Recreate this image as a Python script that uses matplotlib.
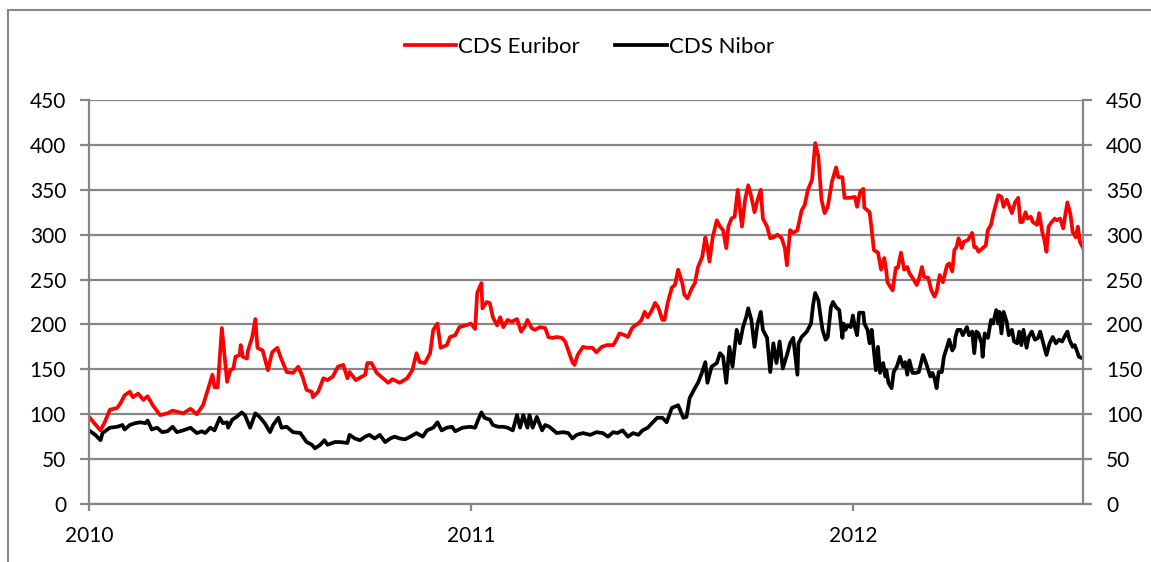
import pandas as pd
import matplotlib.pyplot as plt
import matplotlib.dates as mdates
from matplotlib.patches import Rectangle

# days since 2010-01-01 and CDS levels (bp)
euribor_days = [0, 11, 15, 20, 27, 30, 34, 39, 42, 47, 52, 56, 61, 68, 75, 80, 90, 97, 103, 109,
                113, 118, 120, 123, 127, 132, 135, 138, 140, 144, 145, 147, 151, 152, 156, 159, 161, 166, 171, 175,
                180, 183, 189, 195, 200, 204, 208, 213, 214, 219, 224, 228, 233, 238, 243, 247, 249, 255, 264, 266,
                270, 275, 281, 286, 290, 297, 304, 309, 313, 316, 321, 326, 329, 333, 336, 342, 345, 350, 354, 360,
                365, 369, 371, 375, 376, 380, 383, 386, 390, 393, 396, 400, 404, 409, 413, 417, 419, 423, 426, 431,
                436, 439, 443, 447, 452, 455, 458, 462, 464, 467, 472, 476, 481, 485, 490, 495, 501, 504, 507, 512,
                515, 519, 522, 525, 528, 531, 534, 538, 541, 544, 548, 550, 553, 557, 560, 563, 567, 569, 572, 576,
                579, 582, 586, 589, 591, 593, 596, 600, 603, 606, 609, 611, 614, 617, 620, 624, 627, 630, 633, 636,
                639, 642, 644, 648, 651, 654, 658, 662, 665, 667, 670, 673, 677, 681, 684, 687, 691, 694, 697, 700,
                703, 706, 710, 714, 716, 720, 722, 727, 732, 734, 737, 740, 741, 746, 748, 750, 754, 757, 760, 762,
                763, 768, 771, 773, 776, 779, 782, 784, 787, 791, 793, 796, 798, 802, 805, 808, 810, 813, 816, 820,
                822, 825, 827, 829, 831, 834, 836, 840, 844, 846, 848, 850, 854, 857, 859, 862, 864, 867, 869, 872,
                874, 877, 879, 882, 885, 888, 890, 892, 895, 897, 900, 902, 906, 908, 911, 913, 915, 917, 920, 923,
                925, 928, 931, 933, 935, 938, 940, 943, 945, 947, 950]
euribor = [97, 82, 91, 105, 107, 112, 121, 125, 119, 123, 116, 120, 110, 99, 101, 104, 101, 106, 100, 110,
           125, 144, 130, 130, 196, 136, 149, 151, 164, 166, 177, 164, 162, 171, 186, 206, 174, 171, 149, 169,
           174, 164, 147, 146, 153, 142, 127, 125, 119, 125, 140, 138, 142, 153, 155, 140, 147, 138, 144, 157,
           157, 146, 140, 135, 139, 135, 140, 149, 168, 158, 157, 168, 194, 201, 174, 177, 186, 188, 197, 199,
           201, 195, 235, 246, 218, 225, 224, 208, 199, 208, 197, 205, 203, 206, 192, 199, 205, 196, 194, 197,
           196, 186, 185, 186, 185, 181, 171, 158, 155, 166, 175, 174, 174, 169, 175, 177, 177, 183, 190, 188,
           186, 196, 199, 201, 205, 214, 208, 216, 224, 219, 205, 205, 224, 241, 244, 261, 246, 233, 229, 240,
           246, 264, 275, 297, 286, 270, 297, 316, 309, 305, 285, 309, 318, 320, 350, 309, 339, 355, 342, 325,
           339, 350, 318, 309, 296, 297, 300, 296, 285, 266, 305, 302, 305, 327, 333, 350, 361, 402, 387, 339,
           324, 331, 359, 375, 364, 364, 341, 341, 342, 331, 348, 351, 330, 325, 305, 283, 280, 261, 274, 259,
           247, 238, 263, 263, 280, 261, 264, 257, 252, 244, 250, 264, 253, 252, 238, 231, 236, 255, 247, 266,
           268, 259, 283, 286, 296, 285, 292, 294, 302, 286, 286, 281, 285, 288, 305, 311, 322, 335, 344, 342,
           331, 339, 333, 324, 336, 341, 314, 314, 325, 318, 320, 314, 311, 324, 303, 294, 281, 309, 314, 318,
           316, 318, 307, 322, 336, 322, 303, 297, 309, 292, 285]

nibor_days = [0, 6, 11, 13, 20, 27, 32, 34, 39, 44, 49, 54, 56, 60, 65, 70, 75, 80, 84, 90,
              97, 103, 108, 111, 116, 120, 125, 128, 132, 133, 137, 141, 146, 149, 154, 159, 163, 168, 173, 176,
              181, 184, 189, 195, 202, 208, 213, 216, 221, 225, 228, 235, 240, 247, 249, 254, 259, 264, 268, 273,
              278, 283, 288, 292, 297, 302, 307, 313, 319, 323, 329, 333, 337, 342, 347, 350, 357, 364, 369, 372,
              375, 378, 383, 386, 391, 396, 400, 405, 409, 412, 415, 419, 421, 424, 428, 433, 436, 440, 447, 453,
              458, 462, 466, 472, 479, 485, 491, 496, 501, 505, 510, 515, 520, 525, 529, 534, 538, 543, 548, 552,
              557, 563, 568, 571, 574, 579, 582, 586, 589, 591, 595, 600, 603, 606, 609, 612, 615, 619, 622, 625,
              628, 630, 633, 636, 639, 642, 644, 648, 651, 654, 657, 660, 663, 667, 670, 673, 677, 678, 681, 686,
              690, 692, 694, 697, 699, 701, 704, 706, 709, 711, 714, 717, 720, 721, 723, 725, 728, 730, 732, 734,
              736, 740, 741, 744, 746, 748, 750, 752, 754, 756, 759, 761, 762, 764, 767, 769, 772, 775, 778, 780,
              782, 784, 787, 790, 793, 797, 799, 801, 804, 806, 808, 810, 812, 815, 817, 820, 822, 825, 827, 828,
              830, 833, 835, 839, 841, 844, 846, 848, 850, 853, 854, 856, 859, 862, 864, 867, 869, 870, 872, 874,
              877, 879, 882, 884, 887, 889, 891, 893, 896, 898, 901, 904, 907, 909, 912, 913, 915, 918, 921, 924,
              927, 930, 933, 935, 937, 940, 942, 944, 946, 950]
nibor = [82, 77, 71, 79, 85, 86, 88, 83, 88, 90, 91, 90, 93, 83, 85, 80, 81, 86, 80, 82,
         85, 79, 81, 79, 85, 82, 96, 90, 91, 85, 94, 97, 102, 99, 85, 101, 97, 90, 80, 88,
         96, 85, 86, 80, 79, 69, 66, 62, 66, 71, 66, 69, 69, 68, 77, 73, 71, 75, 77, 73,
         77, 69, 73, 75, 73, 72, 75, 79, 75, 82, 85, 91, 82, 85, 86, 81, 85, 86, 85, 94,
         102, 96, 94, 88, 86, 86, 85, 82, 99, 85, 99, 85, 99, 85, 97, 82, 88, 86, 79, 80,
         79, 73, 77, 79, 77, 80, 79, 75, 80, 79, 82, 75, 79, 77, 82, 85, 90, 96, 96, 91,
         107, 110, 96, 97, 118, 129, 135, 147, 158, 135, 153, 157, 168, 164, 135, 175, 153, 194, 179, 197,
         208, 218, 205, 175, 201, 214, 194, 185, 147, 179, 157, 181, 151, 166, 179, 185, 144, 179, 186, 192,
         201, 222, 235, 227, 210, 194, 183, 186, 219, 225, 219, 216, 185, 201, 194, 199, 197, 210, 197, 188,
         213, 213, 201, 194, 179, 194, 171, 149, 175, 146, 157, 142, 149, 135, 129, 147, 153, 164, 153, 158,
         144, 160, 146, 146, 147, 166, 160, 153, 142, 146, 140, 129, 147, 147, 164, 175, 183, 171, 175, 186,
         194, 194, 188, 197, 188, 192, 168, 192, 190, 179, 164, 190, 185, 205, 201, 216, 201, 214, 190, 214,
         203, 188, 194, 181, 179, 192, 177, 194, 174, 186, 192, 183, 185, 192, 179, 175, 166, 179, 186, 179,
         183, 181, 188, 192, 183, 175, 177, 171, 164, 162]

start = pd.Timestamp('2010-01-01')
euribor_dates = start + pd.to_timedelta(euribor_days, unit='D')
nibor_dates = start + pd.to_timedelta(nibor_days, unit='D')

plt.rcParams['font.family'] = ['Lato', 'DejaVu Sans']
grey = '#868686'

fig = plt.figure(figsize=(11.51, 5.62), dpi=100)
ax = fig.add_axes([0.0773, 0.1032, 0.8637, 0.7189])

ax.plot(euribor_dates, euribor, color='#ff0000', lw=2.7, label='CDS Euribor')
ax.plot(nibor_dates, nibor, color='black', lw=2.7, label='CDS Nibor')

ax.set_ylim(0, 450)
ax.set_yticks(range(0, 451, 50))
ax.set_xlim(start, euribor_dates[-1])
ax.xaxis.set_major_locator(mdates.YearLocator())
ax.xaxis.set_major_formatter(mdates.DateFormatter('%Y'))

ax.yaxis.grid(True, color=grey, lw=1.6)
ax.set_axisbelow(True)
for side in ['left', 'right', 'bottom']:
    ax.spines[side].set_color(grey)
    ax.spines[side].set_linewidth(1.6)
ax.spines['top'].set_visible(False)

ax.tick_params(axis='y', left=True, right=True, labelleft=True, labelright=True,
               length=6.5, width=1.6, color=grey, pad=10, labelsize=15)
ax.tick_params(axis='x', length=5, width=1.6, color=grey, pad=11, labelsize=15)

fig.legend(loc='center', bbox_to_anchor=(0.512, 0.916), ncol=2, frameon=False,
           fontsize=16, handlelength=2.3, handletextpad=0.1, columnspacing=1.6)

# outer chart frame
fig.patches.append(Rectangle((8 / 1151, -0.1), 1.2, 1.1 - 10 / 562, transform=fig.transFigure,
                             fill=False, edgecolor=grey, lw=1.5))

fig.savefig('out.png', dpi=100)
